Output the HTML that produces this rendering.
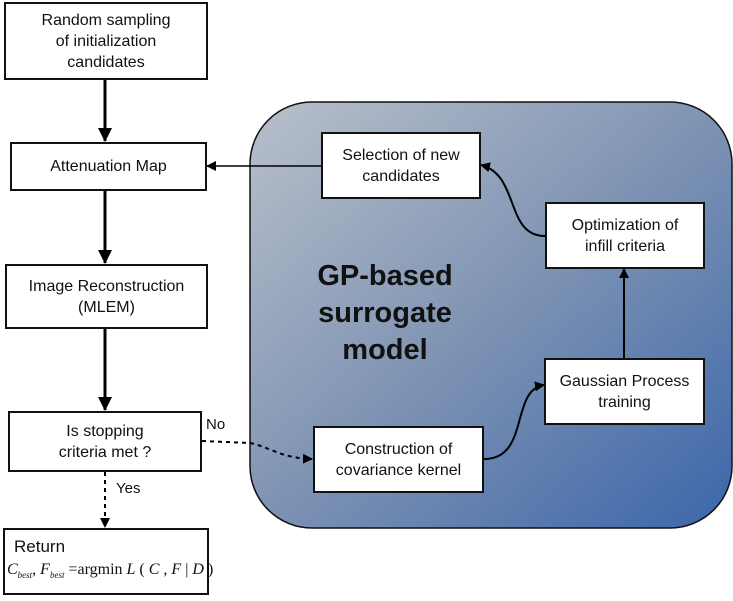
<!DOCTYPE html>
<html><head><style>
body{margin:0;width:733px;height:601px;background:#fff;position:relative;overflow:hidden;font-family:"Liberation Sans",sans-serif;}
.b{position:absolute;background:#fff;border:2px solid #111;box-sizing:border-box;display:flex;align-items:center;justify-content:center;text-align:center;font-size:16px;line-height:21px;color:#111;}
.t{position:absolute;font-size:15px;color:#111;}
</style></head><body>
<svg width="733" height="601" style="position:absolute;left:0;top:0">
<defs>
<linearGradient id="g" x1="0" y1="0" x2="1" y2="1">
<stop offset="0" stop-color="#b9c0ca"/><stop offset="0.5" stop-color="#7e93b3"/><stop offset="1" stop-color="#3b66aa"/>
</linearGradient>
<marker id="a" markerWidth="10" markerHeight="10" refX="9" refY="5" orient="auto" markerUnits="userSpaceOnUse"><path d="M0,0 L10,5 L0,10z" fill="#000"/></marker>
<marker id="a2" markerWidth="14" markerHeight="14" refX="13" refY="7" orient="auto" markerUnits="userSpaceOnUse"><path d="M0,0 L14,7 L0,14z" fill="#000"/></marker>
</defs>
<rect x="250" y="102" width="482" height="426" rx="62" fill="url(#g)" stroke="#111" stroke-width="1.5"/>
<g stroke="#000" fill="none">
<line x1="105" y1="80" x2="105" y2="141" stroke-width="3" marker-end="url(#a2)"/>
<line x1="105" y1="191" x2="105" y2="263" stroke-width="3" marker-end="url(#a2)"/>
<line x1="105" y1="329" x2="105" y2="410" stroke-width="3" marker-end="url(#a2)"/>
<line x1="105" y1="472" x2="105" y2="527" stroke-width="2" stroke-dasharray="4,4" marker-end="url(#a)"/>
<path d="M202,441 L250,443 C270,447 280,458 312,459" stroke-width="2" stroke-dasharray="4,4" marker-end="url(#a)"/>
<line x1="321" y1="166" x2="207" y2="166" stroke-width="1.5" marker-end="url(#a)"/>
<path d="M545,236 C505,236 520,175 481,165" stroke-width="2" marker-end="url(#a)"/>
<line x1="624" y1="358" x2="624" y2="269" stroke-width="2" marker-end="url(#a)"/>
<path d="M484,459 C530,459 510,390 544,385" stroke-width="2" marker-end="url(#a)"/>
</g>
</svg>
<div class="b" style="left:4px;top:2px;width:204px;height:78px">Random sampling<br>of initialization<br>candidates</div>
<div class="b" style="left:10px;top:142px;width:197px;height:49px">Attenuation Map</div>
<div class="b" style="left:5px;top:264px;width:203px;height:65px">Image Reconstruction<br>(MLEM)</div>
<div class="b" style="left:8px;top:411px;width:194px;height:61px">Is stopping<br>criteria met ?</div>
<div class="b" style="left:3px;top:528px;width:206px;height:67px;display:block;text-align:left">
<div style="padding:6px 0 0 9px;font-size:17px">Return</div>
<div style="font-family:'Liberation Serif',serif;font-size:16px;padding-left:2px;margin-top:2px;white-space:nowrap"><i>C</i><sub style="font-size:9px"><i>best</i></sub>, <i>F</i><sub style="font-size:9px"><i>best</i></sub> =argmin <i>L</i> ( <i>C</i> , <i>F</i> | <i>D</i> )</div>
</div>
<div class="b" style="left:321px;top:132px;width:160px;height:67px">Selection of new<br>candidates</div>
<div class="b" style="left:545px;top:202px;width:160px;height:67px">Optimization of<br>infill criteria</div>
<div class="b" style="left:544px;top:358px;width:161px;height:67px">Gaussian Process<br>training</div>
<div class="b" style="left:313px;top:426px;width:171px;height:67px">Construction of<br>covariance kernel</div>
<div style="position:absolute;left:290px;top:258px;width:190px;text-align:center;font-weight:bold;font-size:29px;line-height:37px;color:#111">GP-based<br>surrogate<br>model</div>
<div class="t" style="left:206px;top:416px">No</div>
<div class="t" style="left:116px;top:480px">Yes</div>
</body></html>
